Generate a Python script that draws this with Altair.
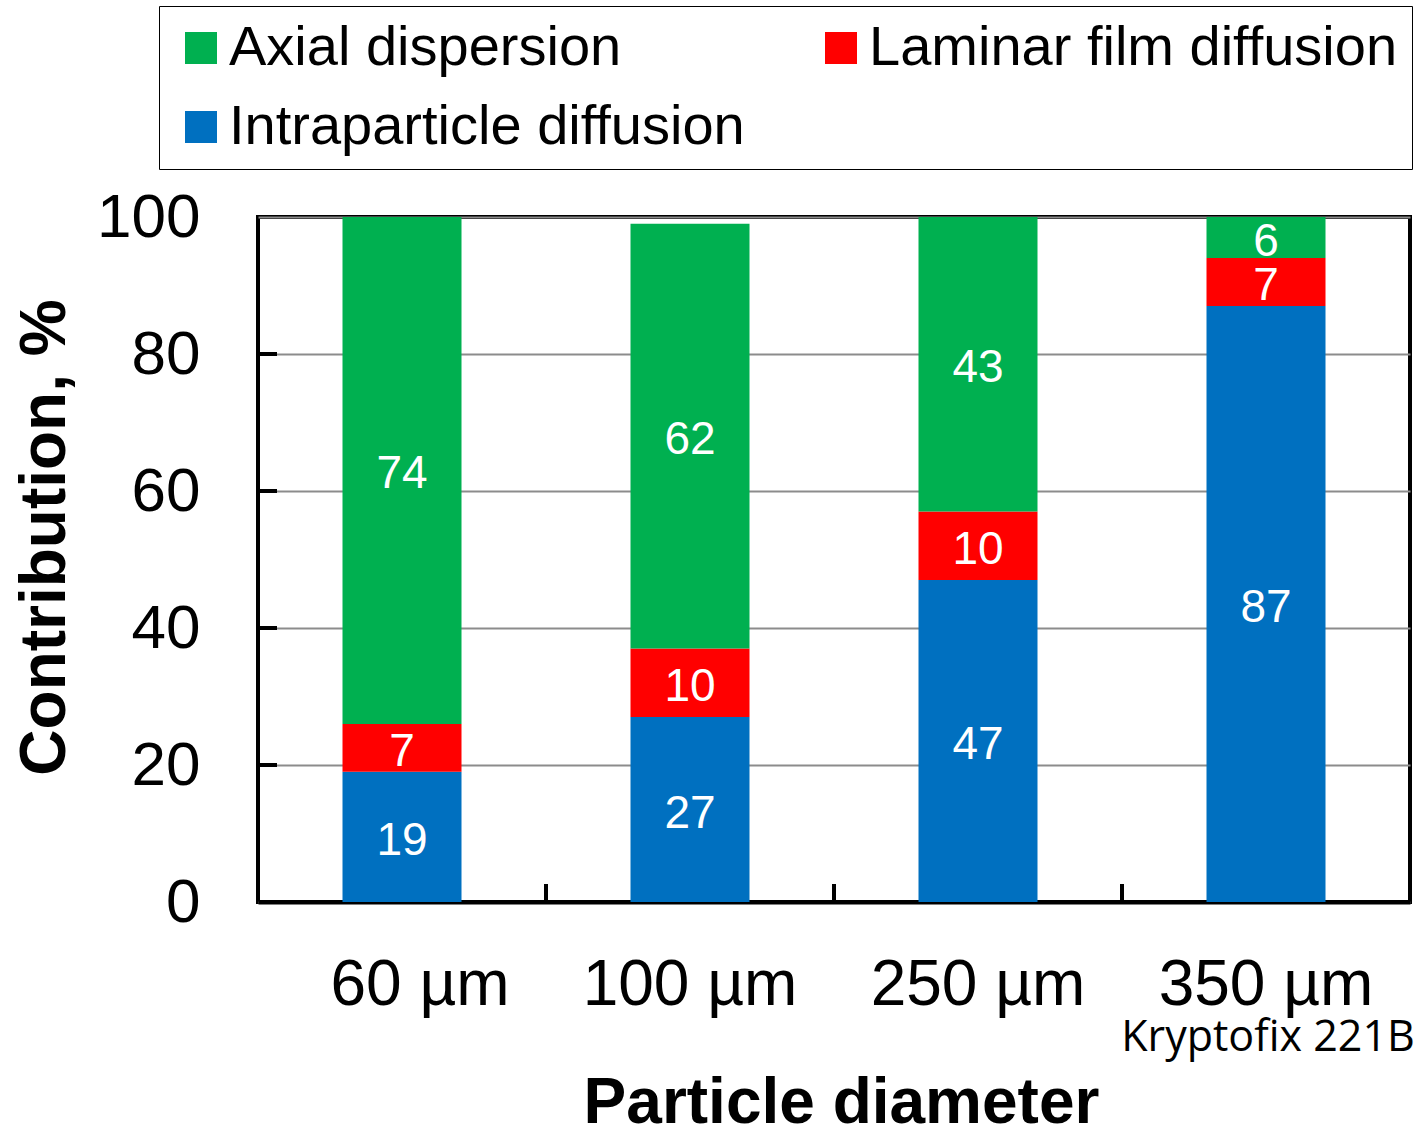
import altair as alt
import pandas as pd

# Particle size categories and contribution of each mass-transfer mechanism (%)
diameters = ["60 µm", "100 µm", "250 µm", "350 µm"]
intraparticle = [19, 27, 47, 87]
laminar_film = [7, 10, 10, 7]
axial = [74, 62, 43, 6]

# legend fills column by column: Axial / Intraparticle in the first column
mechanisms = ["Axial dispersion", "Intraparticle diffusion", "Laminar film diffusion"]
colors = ["#00B050", "#0070C0", "#FF0000"]
stack_order = {"Intraparticle diffusion": 0, "Laminar film diffusion": 1, "Axial dispersion": 2}

y_ticks = [20, 40, 60, 80]
note_text = "Kryptofix 221B"
note_category = "350 µm"

rows = []
for i, d in enumerate(diameters):
    for name, vals in [("Intraparticle diffusion", intraparticle),
                       ("Laminar film diffusion", laminar_film),
                       ("Axial dispersion", axial)]:
        rows.append({"diameter": d, "mechanism": name, "value": vals[i],
                     "order": stack_order[name]})
df = pd.DataFrame(rows)

FONT = "Liberation Sans"
W, H = 1152, 685
step = W / len(diameters)

x_enc = alt.X(
    "diameter:N",
    scale=alt.Scale(domain=diameters, paddingInner=0, paddingOuter=0),
    sort=diameters,
    axis=alt.Axis(
        title="Particle diameter", titleFont=FONT, titleFontSize=64, titleFontWeight="bold",
        titleColor="black", titleX=583, titleY=220, titleBaseline="alphabetic",
        labelFont=FONT, labelFontSize=64, labelColor="black", labelAngle=0,
        labelPadding=51, labelLimit=500, ticks=False, tickSize=0, domain=True,
        domainColor="black", domainWidth=4, grid=False,
        labelOffset={"condition": {"test": "datum.value == '60 µm'", "value": 18}, "value": 0},
    ),
)

bars = alt.Chart(df).mark_bar(size=119).encode(
    x=x_enc,
    y=alt.Y(
        "value:Q",
        stack="zero",
        scale=alt.Scale(domain=[0, 100], nice=False),
        axis=alt.Axis(
            title="Contribution, %", titleFont=FONT, titleFontSize=64, titleFontWeight="bold",
            titleColor="black", titleX=-213, titleY=320, titleAlign="center",
            titleBaseline="middle", titleAngle=270,
            values=[0, 20, 40, 60, 80, 100], labelFont=FONT, labelFontSize=62,
            labelColor="black", labelPadding=58, ticks=False, tickSize=0,
            domain=False, grid=True, gridColor="#8C8C8C", gridWidth=2,
        ),
    ),
    color=alt.Color(
        "mechanism:N",
        scale=alt.Scale(domain=mechanisms, range=colors),
        legend=alt.Legend(
            title=None, orient="none", legendX=-99, legendY=-211, columns=2,
            columnPadding=68, rowPadding=23, symbolType="square", symbolSize=1024,
            symbolStrokeWidth=0, labelFont=FONT, labelFontSize=56, labelColor="black",
            labelOffset=0, labelLimit=800, padding=14, strokeColor="black",
            fillColor="white",
        ),
    ),
    order=alt.Order("order:Q"),
)

labels = alt.Chart(df).transform_window(
    cum="sum(value)", groupby=["diameter"], sort=[alt.SortField("order")], frame=[None, 0]
).transform_calculate(
    mid="datum.cum - datum.value / 2"
).mark_text(font=FONT, fontSize=46, color="white", baseline="middle", dy=4).encode(
    x=alt.X("diameter:N", sort=diameters),
    y=alt.Y("mid:Q"),
    text=alt.Text("value:Q"),
)

# inward tick marks on the left axis
ytick_df = pd.DataFrame({"t": y_ticks})
yticks = alt.Chart(ytick_df).mark_rule(color="black", strokeWidth=4).encode(
    y=alt.Y("t:Q"), x=alt.value(0), x2=alt.value(19)
)

# inward tick marks at the category boundaries of the bottom axis
xtick_df = pd.DataFrame({"diameter": diameters[1:]})
xticks = alt.Chart(xtick_df).mark_rule(color="black", strokeWidth=4, xOffset=-step / 2).encode(
    x=alt.X("diameter:N", sort=diameters), y=alt.value(H), y2=alt.value(H - 18)
)

note_df = pd.DataFrame({"diameter": [note_category], "note": [note_text]})
note = alt.Chart(note_df).mark_text(
    font="Open Sans", fontSize=43, color="black", baseline="middle", dx=2
).encode(
    x=alt.X("diameter:N", sort=diameters), y=alt.value(821), text="note:N"
)

chart = alt.layer(bars, labels, yticks, xticks, note).properties(
    width=W, height=H,
    background="white",
    autosize=alt.AutoSizeParams(type="none"),
    padding={"left": 258, "top": 217, "right": 17, "bottom": 223},
).configure_view(
    stroke="black", strokeWidth=4
)

chart.save("out.html", embed_options={"renderer": "svg", "actions": False})
